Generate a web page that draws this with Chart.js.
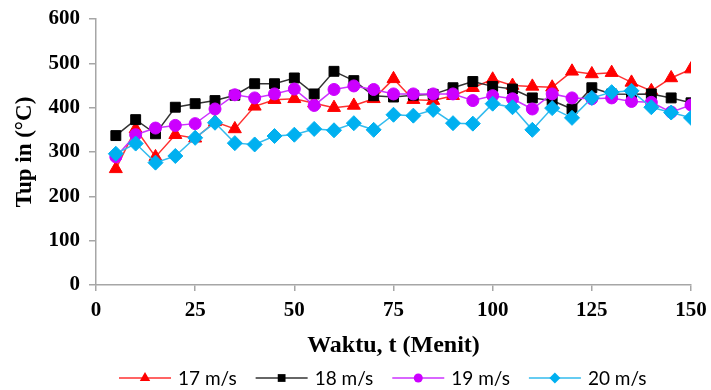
<!DOCTYPE html>
<html>
<head>
<meta charset="utf-8">
<script src="https://cdn.jsdelivr.net/npm/chart.js@4.4.0/dist/chart.umd.min.js"></script>
<style>
  body { margin: 0; background: #fff; }
  #wrap { width: 711px; height: 390px; }
</style>
</head>
<body>
<div id="wrap"><canvas id="myChart" width="711" height="390"></canvas></div>
<script>
//*************** data *******************
var waktu = [5, 10, 15, 20, 25, 30, 35, 40, 45, 50, 55, 60, 65, 70, 75, 80, 85, 90, 95, 100, 105, 110, 115, 120, 125, 130, 135, 140, 145, 150];
var v17 = [262, 352, 289, 339, 331, 368, 352, 403, 418, 420, 410, 400, 405, 420, 465, 418, 416, 427, 445, 464, 450, 448, 446, 482, 476, 479, 457, 438, 467, 487];
var v18 = [337, 373, 341, 401, 409, 416, 428, 454, 454, 467, 431, 482, 461, 427, 424, 428, 430, 445, 459, 448, 442, 422, 416, 397, 445, 431, 430, 431, 422, 411];
var v19 = [289, 339, 354, 360, 364, 397, 429, 422, 431, 442, 405, 441, 449, 441, 431, 431, 431, 431, 416, 427, 420, 397, 431, 422, 420, 422, 414, 412, 390, 406];
var v20 = [296, 319, 276, 291, 332, 366, 320, 317, 336, 339, 352, 349, 365, 350, 384, 382, 395, 365, 364, 409, 401, 350, 399, 377, 422, 435, 438, 401, 389, 377];
var seriesNames = ["17 m/s", "18 m/s", "19 m/s", "20 m/s"];
var xTicks = [0, 25, 50, 75, 100, 125, 150];
var yTicks = [0, 100, 200, 300, 400, 500, 600];

function toPoints(vals) {
  return vals.map(function(v, i) { return { x: waktu[i], y: v }; });
}

// draws a small marker for the legend
function drawMarker(ctx, style, x, y, r, color) {
  ctx.save();
  ctx.fillStyle = color;
  ctx.beginPath();
  if (style === "triangle") {
    ctx.moveTo(x, y - r);
    ctx.lineTo(x + r * 0.866, y + r * 0.5);
    ctx.lineTo(x - r * 0.866, y + r * 0.5);
  } else if (style === "rect") {
    ctx.rect(x - r * 0.707, y - r * 0.707, r * 1.414, r * 1.414);
  } else if (style === "rectRot") {
    ctx.moveTo(x - r, y);
    ctx.lineTo(x, y - r);
    ctx.lineTo(x + r, y);
    ctx.lineTo(x, y + r);
  } else {
    ctx.arc(x, y, r, 0, Math.PI * 2);
  }
  ctx.closePath();
  ctx.fill();
  ctx.restore();
}

var bottomLegend = {
  id: "bottomLegend",
  afterDraw: function(chart) {
    var ctx = chart.ctx;
    var y = 378;
    var x = 119;
    ctx.save();
    ctx.font = "19px Lato";
    ctx.textBaseline = "middle";
    ctx.textAlign = "left";
    chart.data.datasets.forEach(function(ds) {
      ctx.strokeStyle = ds.borderColor;
      ctx.lineWidth = 1.5;
      ctx.beginPath();
      ctx.moveTo(x, y);
      ctx.lineTo(x + 52, y);
      ctx.stroke();
      drawMarker(ctx, ds.pointStyle, x + 26, y, ds.legendRadius, ds.pointBackgroundColor);
      ctx.fillStyle = "#000";
      ctx.fillText(ds.label, x + 59, y + 1);
      x = x + 59 + ctx.measureText(ds.label).width + 19;
    });
    ctx.restore();
  }
};

var axisGray = "#a6a6a6";
var tickFont = { family: "'Liberation Serif', 'Times New Roman', serif", size: 21, weight: "bold" };

var myChart = new Chart(document.getElementById("myChart").getContext("2d"), {
  type: "line",
  data: {
    datasets: [{
      label: seriesNames[0],
      data: toPoints(v17),
      borderColor: "#ff3030",
      borderWidth: 1.5,
      pointStyle: "triangle",
      pointRadius: 7.5,
      pointBackgroundColor: "#ff0000",
      pointBorderColor: "#ff0000",
      pointBorderWidth: 1,
      legendRadius: 6,
      order: 4
    }, {
      label: seriesNames[1],
      data: toPoints(v18),
      borderColor: "#333333",
      borderWidth: 1.5,
      pointStyle: "rect",
      pointRadius: 7,
      pointBackgroundColor: "#000000",
      pointBorderColor: "#000000",
      pointBorderWidth: 1,
      legendRadius: 5.5,
      order: 3
    }, {
      label: seriesNames[2],
      data: toPoints(v19),
      borderColor: "#cc33ff",
      borderWidth: 1.5,
      pointStyle: "circle",
      pointRadius: 6,
      pointBackgroundColor: "#cc00ff",
      pointBorderColor: "#cc00ff",
      pointBorderWidth: 1,
      legendRadius: 4.5,
      order: 2
    }, {
      label: seriesNames[3],
      data: toPoints(v20),
      borderColor: "#33bbee",
      borderWidth: 1.5,
      pointStyle: "rectRot",
      pointRadius: 7.5,
      pointBackgroundColor: "#00b0f0",
      pointBorderColor: "#00b0f0",
      pointBorderWidth: 1,
      legendRadius: 5.5,
      order: 1
    }]
  },
  options: {
    responsive: false,
    animation: false,
    layout: { padding: { left: 0, right: 20, top: 19, bottom: 30 } },
    plugins: {
      legend: { display: false },
      tooltip: { enabled: false }
    },
    scales: {
      x: {
        type: "linear",
        min: 0,
        max: 150,
        afterBuildTicks: function(s) { s.ticks = xTicks.map(function(v) { return { value: v }; }); },
        afterFit: function(s) { s.height = 75; s.paddingLeft = 0; s.paddingRight = 0; },
        ticks: { font: tickFont, color: "#000", padding: 7, maxRotation: 0 },
        grid: { drawOnChartArea: false, color: axisGray, tickLength: 6, lineWidth: 1.5 },
        border: { color: axisGray, width: 1.5 },
        title: {
          display: true,
          text: "Waktu, t (Menit)",
          color: "#000",
          font: { family: "'Liberation Serif', 'Times New Roman', serif", size: 24, weight: "bold" },
          padding: { top: 0, bottom: 0 }
        }
      },
      y: {
        min: 0,
        max: 600,
        afterBuildTicks: function(s) { s.ticks = yTicks.map(function(v) { return { value: v }; }); },
        afterFit: function(s) { s.width = 96; s.paddingTop = 0; s.paddingBottom = 0; },
        ticks: { font: tickFont, color: "#000", padding: 9 },
        grid: { drawOnChartArea: false, color: axisGray, tickLength: 7, lineWidth: 1.5 },
        border: { color: axisGray, width: 1.5 },
        title: {
          display: true,
          text: "Tup in (°C)",
          color: "#000",
          font: { family: "'Liberation Serif', 'Times New Roman', serif", size: 23, weight: "bold" },
          padding: { top: 11, bottom: 0 }
        }
      }
    }
  },
  plugins: [bottomLegend]
});
</script>
</body>
</html>
